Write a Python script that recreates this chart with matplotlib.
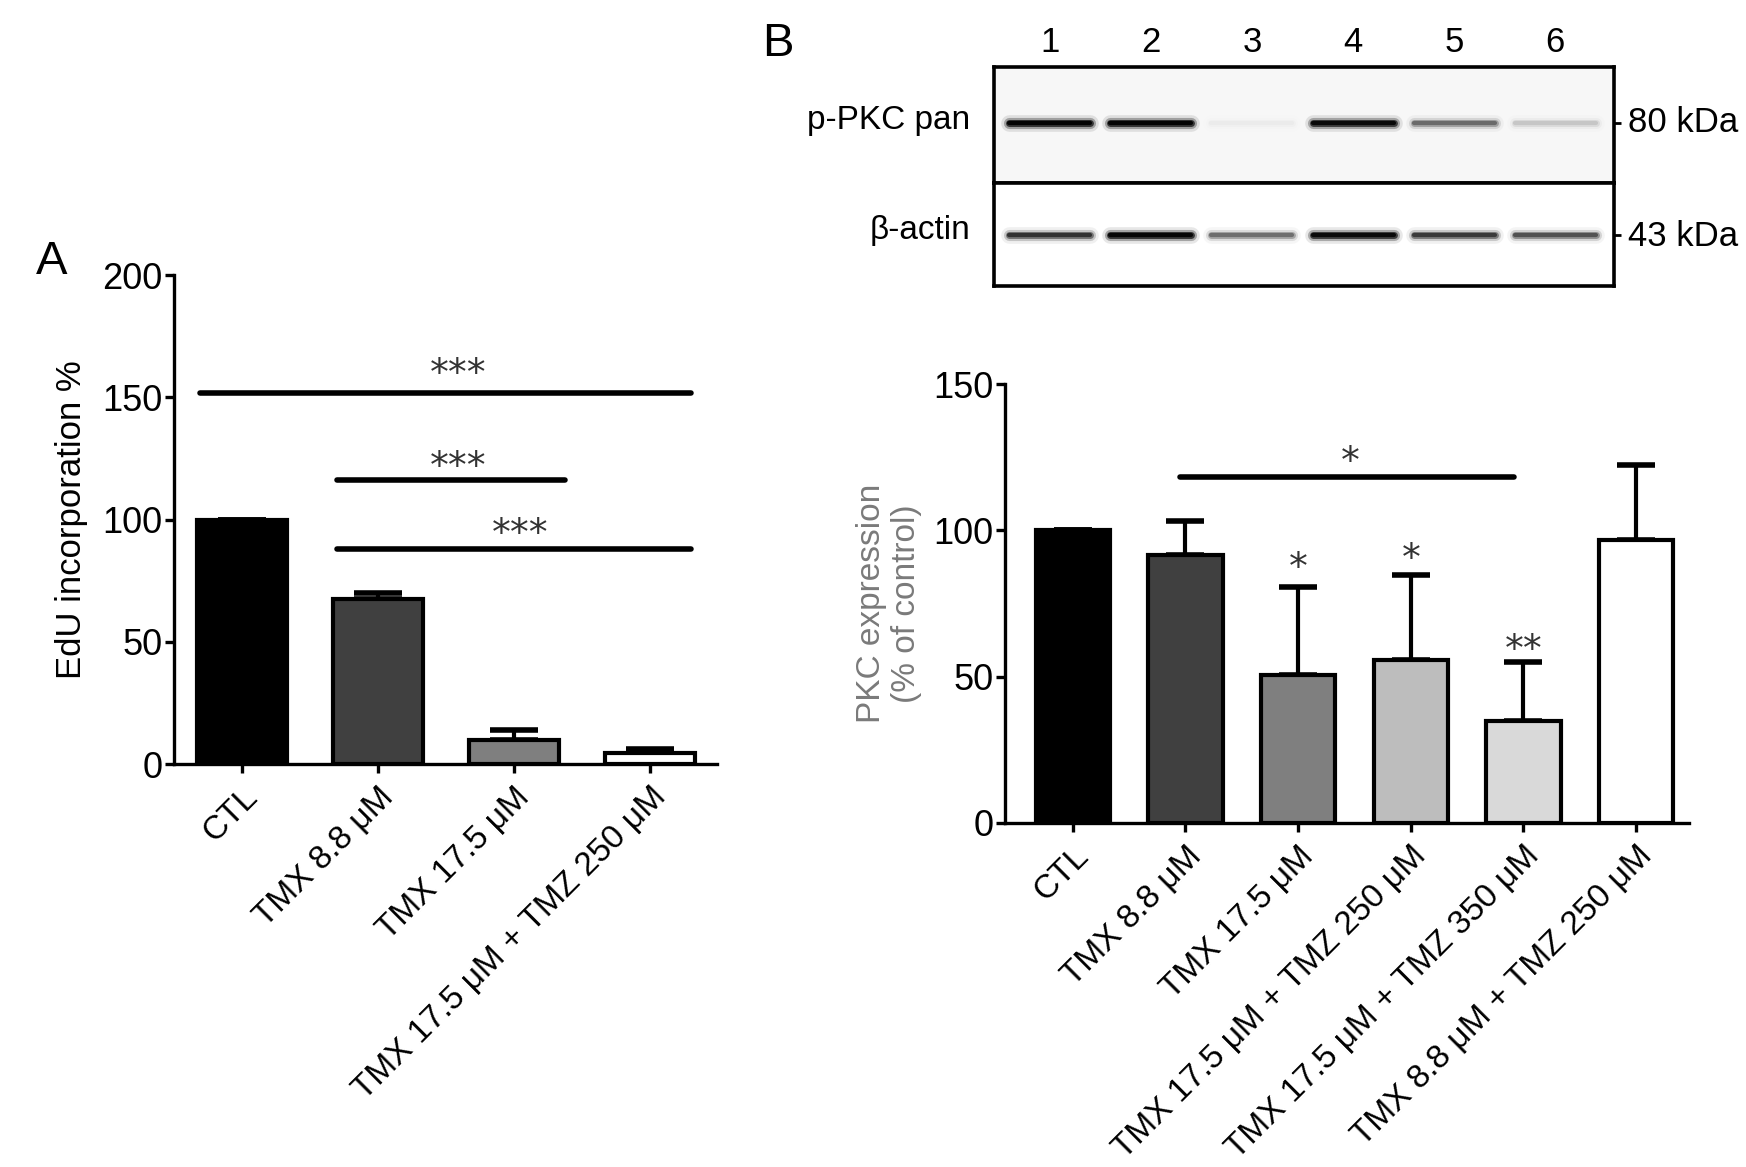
import numpy as np
import matplotlib.pyplot as plt
from matplotlib import font_manager

# ---- data ----
groups_a = ['CTL', 'TMX 8.8 μM', 'TMX 17.5 μM', 'TMX 17.5 μM + TMZ 250 μM']
edu_mean = [100, 67.5, 9.7, 4.5]
edu_err = [0, 2.3, 4.1, 1.6]
colors_a = ['#000000', '#404040', '#7f7f7f', '#ffffff']
# significance bars: x start, x end, line height, star height, star x, label
sig_a_x0 = [-0.31, 0.70, 0.70]
sig_a_x1 = [3.30, 2.37, 3.30]
sig_a_y = [151.9, 116.2, 87.8]
sig_a_star_y = [164, 126, 98.5]
sig_a_star_x = [1.59, 1.59, 2.04]
sig_a_label = ['***', '***', '***']

groups_b = ['CTL', 'TMX 8.8 μM', 'TMX 17.5 μM', 'TMX 17.5 μM + TMZ 250 μM',
            'TMX 17.5 μM + TMZ 350 μM', 'TMX 8.8 μM + TMZ 250 μM']
pkc_mean = [100, 91.7, 50.7, 55.8, 34.7, 96.8]
pkc_err = [0, 11.6, 29.8, 29.1, 20.3, 25.6]
pkc_stars = ['', '', '*', '*', '**', '']
pkc_star_y = [0, 0, 90.6, 94, 62.8, 0]
colors_b = ['#000000', '#404040', '#7f7f7f', '#bdbdbd', '#d9d9d9', '#ffffff']
sig_b_x0, sig_b_x1, sig_b_y = 0.95, 3.92, 118.2
sig_b_star_x, sig_b_star_y = 2.46, 127

lanes = ['1', '2', '3', '4', '5', '6']
ppkc_band = [0.95, 0.95, 0.02, 0.9, 0.35, 0.1]
actin_band = [0.6, 0.95, 0.35, 0.9, 0.55, 0.45]

# ---- fonts ----
names = {f.name for f in font_manager.fontManager.ttflist}
base = 'Liberation Sans' if 'Liberation Sans' in names else 'Arimo'
plt.rcParams['font.family'] = [base, 'DejaVu Sans']
STAR = dict(family='DejaVu Sans', fontsize=27, color='#333333')
STAR_OFF = -15.5  # points, puts the asterisk centre on the anchor

W, H = 1746, 1167
fig = plt.figure(figsize=(W / 100, H / 100), dpi=100)


def px(x, y):
    return x / W, 1 - y / H


def star(ax, x, y, s):
    ax.annotate(s, (x, y), xytext=(0, STAR_OFF), textcoords='offset points',
                ha='center', va='baseline', **STAR)


def style_axes(ax):
    for s in ['top', 'right']:
        ax.spines[s].set_visible(False)
    for s in ['left', 'bottom']:
        ax.spines[s].set_linewidth(2.4)
    ax.tick_params(axis='both', width=2.4, length=6.5, direction='out')
    ax.tick_params(axis='y', labelsize=26, pad=2)
    ax.tick_params(axis='x', pad=6)


# ---- panel A ----
axA = fig.add_axes([0.0997, 0.3453, 0.311, 0.419])
xa = np.arange(len(groups_a))
axA.errorbar(xa, edu_mean, yerr=[np.zeros(len(xa)), edu_err], fmt='none',
             ecolor='black', elinewidth=3, capsize=17, capthick=4, zorder=1)
axA.bar(xa, edu_mean, width=0.66, color=colors_a, edgecolor='black', linewidth=3, zorder=2)
for x0, x1, y, sy, sx, s in zip(sig_a_x0, sig_a_x1, sig_a_y, sig_a_star_y,
                                sig_a_star_x, sig_a_label):
    axA.plot([x0, x1], [y, y], color='black', lw=4, solid_capstyle='round', zorder=3)
    star(axA, sx, sy, s)
axA.set_xlim(-0.5, 3.49)
axA.set_ylim(0, 200)
axA.set_yticks([0, 50, 100, 150, 200])
axA.set_xticks(xa)
axA.set_xticklabels(groups_a, rotation=45, ha='right', rotation_mode='anchor', fontsize=24)
style_axes(axA)
axA.set_ylabel('EdU incorporation %', fontsize=25, labelpad=10)

# ---- panel B chart ----
axB = fig.add_axes([0.5757, 0.2948, 0.3917, 0.376])
xb = np.arange(len(groups_b))
axB.errorbar(xb, pkc_mean, yerr=[np.zeros(len(xb)), pkc_err], fmt='none',
             ecolor='black', elinewidth=3, capsize=14, capthick=4, zorder=1)
axB.bar(xb, pkc_mean, width=0.66, color=colors_b, edgecolor='black', linewidth=3, zorder=2)
for i, s in enumerate(pkc_stars):
    if s:
        star(axB, xb[i], pkc_star_y[i], s)
axB.plot([sig_b_x0, sig_b_x1], [sig_b_y, sig_b_y], color='black', lw=4,
         solid_capstyle='round', zorder=3)
star(axB, sig_b_star_x, sig_b_star_y, '*')
axB.set_xlim(-0.6, 5.47)
axB.set_ylim(0, 150)
axB.set_yticks([0, 50, 100, 150])
axB.set_xticks(xb)
axB.set_xticklabels(groups_b, rotation=45, ha='right', rotation_mode='anchor', fontsize=24)
style_axes(axB)
axB.set_ylabel('PKC expression\n(% of control)', fontsize=24, color='#7a7a7a',
               labelpad=8, linespacing=1.15)

# ---- panel B blot ----
blot_top = fig.add_axes([0.5693, 0.8432, 0.3551, 0.0994])
blot_bot = fig.add_axes([0.5693, 0.7549, 0.3551, 0.0883])
for ax, bands, yb in [(blot_top, ppkc_band, 0.52), (blot_bot, actin_band, 0.50)]:
    ax.set_xlim(-0.55, 5.58)
    ax.set_ylim(0, 1)
    for i, v in enumerate(bands):
        for lw, a in [(12, 0.1), (8, 0.3), (5, 0.7), (3, 0.95)]:
            ax.plot([i - 0.4, i + 0.4], [yb, yb], color='black', lw=lw,
                    alpha=v * a, solid_capstyle='round')
    ax.set_xticks([])
    ax.yaxis.tick_right()
    ax.set_yticks([yb])
    ax.set_yticklabels([])
    ax.tick_params(axis='y', length=5, width=2)
    for s in ax.spines.values():
        s.set_linewidth(2.6)
blot_top.set_facecolor('#f7f7f7')
blot_top.xaxis.tick_top()
blot_top.set_xticks(range(len(lanes)))
blot_top.set_xticklabels(lanes, fontsize=25)
blot_top.tick_params(axis='x', length=0, pad=6)

fig.text(*px(970, 120), 'p-PKC pan', ha='right', va='center', fontsize=24)
fig.text(*px(970, 230), 'β-actin', ha='right', va='center', fontsize=24)
fig.text(*px(1628, 123), '80 kDa', ha='left', va='center', fontsize=25)
fig.text(*px(1628, 237), '43 kDa', ha='left', va='center', fontsize=25)

# panel letters
fig.text(*px(52, 262), 'A', ha='center', va='center', fontsize=34)
fig.text(*px(778, 44), 'B', ha='center', va='center', fontsize=34)

fig.savefig('out.png', dpi=100)
